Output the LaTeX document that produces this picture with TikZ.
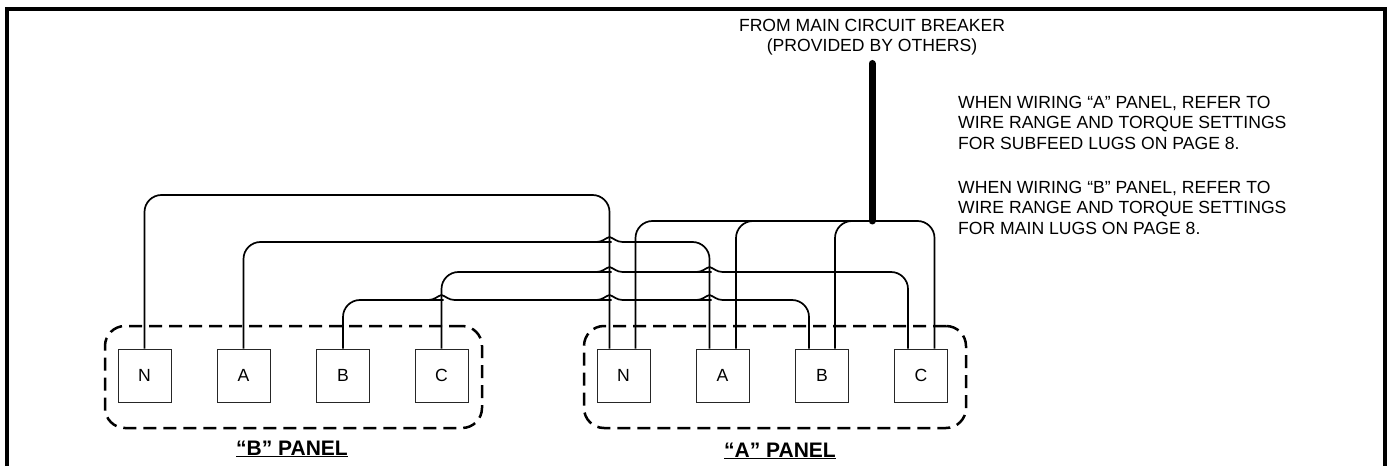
\documentclass[tikz,border=0pt]{standalone}
\usepackage{fontspec}
\setmainfont{Liberation Sans}
\usetikzlibrary{calc}
\newcommand{\hopat}[2]{-- ($(#1 |- #2)+(-15,0)$) [sharp corners] -- ($(#1 |- #2)+(-13,0)$) .. controls ($(#1 |- #2)+(-7,0)$) and ($(#1 |- #2)+(-4,4)$) .. ($(#1 |- #2)+(0,5)$) .. controls ($(#1 |- #2)+(4,4)$) and ($(#1 |- #2)+(7,0)$) .. ($(#1 |- #2)+(13,0)$) -- ($(#1 |- #2)+(15,0)$) [rounded corners=17pt]}
\tikzset{
  x=1pt,y=1pt,
  frameline/.style={draw=black,line width=4pt},
  lugbox/.style={draw=black!85,line width=0.9pt,minimum width=53pt,minimum height=53pt,inner sep=0pt,font=\fontsize{17.6}{20}\selectfont},
  panelzone/.style={draw=black,line width=2.5pt,rounded corners=20pt,dash pattern=on 13pt off 7pt},
  wire/.style={draw=black,line width=1.7pt,rounded corners=17pt},
  feedline/.style={draw=black,line width=7pt,line cap=round},
  notetext/.style={align=left,anchor=north west,inner sep=0pt,font=\fontsize{17.6}{20.5}\selectfont},
  feedtext/.style={align=center,inner sep=0pt,font=\fontsize{17.6}{20.5}\selectfont},
  paneltext/.style={inner sep=0pt,font=\bfseries\fontsize{21}{23}\selectfont},
}
\begin{document}
\begin{tikzpicture}
\useasboundingbox (0,0) rectangle (1388,466);
\coordinate (fbl) at (7,0);
\coordinate (ftl) at (7,457);
\coordinate (ftr) at (1385,457);
\coordinate (fbr) at (1385,0);
\draw[frameline] (fbl) -- (ftl) -- (ftr) -- (fbr);

\node[panelzone,minimum width=377pt,minimum height=102pt] (pb) at (293.5,89) {};
\node[panelzone,minimum width=382pt,minimum height=102pt] (pa) at (775,89) {};

\node[lugbox] (bN) at (144.5,90.5) {N};
\node[lugbox] (bA) at (243.5,90.5) {A};
\node[lugbox] (bB) at (343,90.5) {B};
\node[lugbox] (bC) at (441.5,90.5) {C};
\node[lugbox] (aN) at (623.5,90.5) {N};
\node[lugbox] (aA) at (722.5,90.5) {A};
\node[lugbox] (aB) at (822,90.5) {B};
\node[lugbox] (aC) at (921,90.5) {C};

\coordinate (aN1) at ($(aN.north)+(-14,0)$);
\coordinate (aN2) at ($(aN.north)+(12,0)$);
\coordinate (aA1) at ($(aA.north)+(-13,0)$);
\coordinate (aA2) at ($(aA.north)+(13.5,0)$);
\coordinate (aB1) at ($(aB.north)+(-13,0)$);
\coordinate (aB2) at ($(aB.north)+(13,0)$);
\coordinate (aC1) at ($(aC.north)+(-13,0)$);
\coordinate (aC2) at ($(aC.north)+(13.5,0)$);

\coordinate (yN) at (0,271);
\coordinate (yA) at (0,224);
\coordinate (yC) at (0,194);
\coordinate (yB) at (0,166);
\coordinate (yF) at (0,245);

\node[feedtext] (src) at (872,429) {FROM MAIN CIRCUIT BREAKER\\(PROVIDED BY OTHERS)};
\node[notetext] (n1) at (958,370) {WHEN WIRING “A” PANEL, REFER TO\\WIRE RANGE AND TORQUE SETTINGS\\FOR SUBFEED LUGS ON PAGE 8.};
\node[notetext] (n2) at (958,285) {WHEN WIRING “B” PANEL, REFER TO\\WIRE RANGE AND TORQUE SETTINGS\\FOR MAIN LUGS ON PAGE 8.};
\node[paneltext] (lb) at (292,17) {\underline{“B” PANEL}};
\node[paneltext] (la) at (780,15) {\underline{“A” PANEL}};

\coordinate (feedtop) at (872,402.5);
\coordinate (junction) at (872,245);
\coordinate (splice) at (790,245);

% Incoming feeder and A-panel wires
\draw[wire] (aN2) -- (aN2 |- yF) -- (aC2 |- yF) -- (aC2);
\draw[wire] (aA2) -- (aA2 |- yF) -- (splice);
\draw[wire] (aB2) -- (aB2 |- yF) -- (junction);
\draw[feedline] (feedtop) -- (junction);

% B-panel wires crossing to A panel
\draw[wire] (bN.north) -- (bN.north |- yN) -- (aN1 |- yN) -- (aN1);
\draw[wire] (bA.north) -- (bA.north |- yA) \hopat{aN1}{yA} -- (aA1 |- yA) -- (aA1);
\draw[wire] (bC.north) -- (bC.north |- yC) \hopat{aN1}{yC} \hopat{aA1}{yC} -- (aC1 |- yC) -- (aC1);
\draw[wire] (bB.north) -- (bB.north |- yB) \hopat{bC.north}{yB} \hopat{aN1}{yB} \hopat{aA1}{yB} -- (aB1 |- yB) -- (aB1);
\end{tikzpicture}
\end{document}
